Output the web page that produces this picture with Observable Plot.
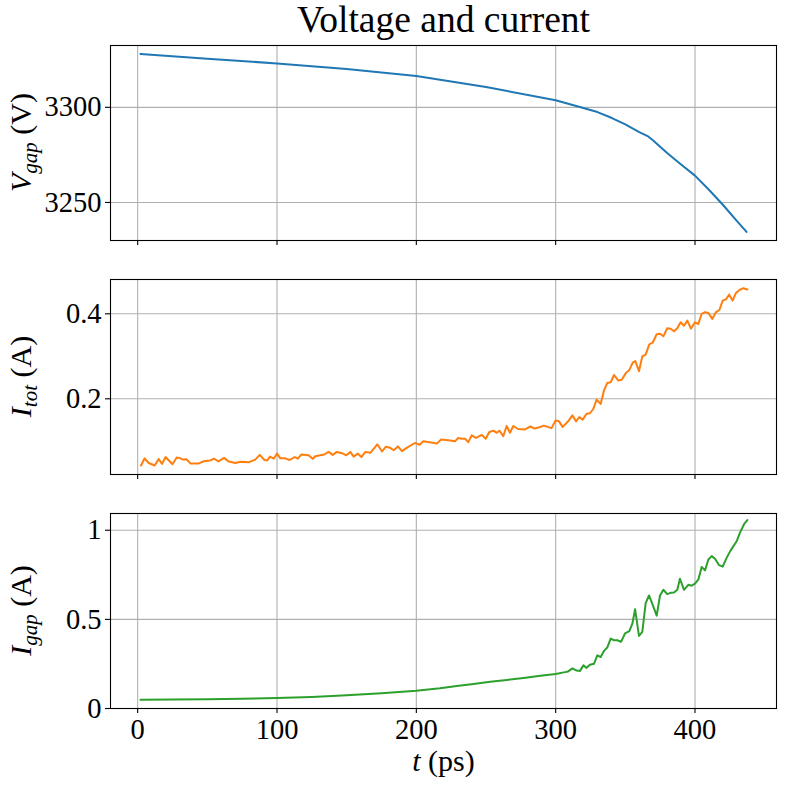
<!DOCTYPE html>
<html>
<head>
<meta charset="utf-8">
<script src="https://cdn.jsdelivr.net/npm/d3@7"></script>
<script src="https://cdn.jsdelivr.net/npm/@observablehq/plot@0.6"></script>
<style>
  html, body { margin: 0; padding: 0; background: #fff; }
  #chart svg { display: block; }
</style>
</head>
<body>
<div id="chart"></div>
<script>
// ---- data ----
const tV = [2, 50, 100, 150, 200, 250, 300, 318, 330, 340, 350, 360, 366, 370, 380, 390, 400, 410, 420, 430, 437];
const vGap = [3328.0, 3325.5, 3323.1, 3320.2, 3316.5, 3310.7, 3303.7, 3300.0, 3297.5, 3294.5, 3291.0, 3287.0, 3284.9, 3282.6, 3276.0, 3270.0, 3264.1, 3256.7, 3248.8, 3240.3, 3234.5];

const tTot = [2.4, 5, 7.9, 12.2, 15.1, 17.5, 20, 25, 28, 30, 32.5, 35, 37.8, 44, 47.4, 52, 55, 58, 62, 65, 70, 74, 80, 84.4, 87.6, 91, 93, 95, 97.6, 100, 102.4, 106, 109, 112.7, 115, 117.5, 122.7, 125.6, 127.5, 131, 134, 137, 140, 143, 146.6, 149.8, 152.6, 155, 158, 160.5, 163.4, 167, 172, 175.4, 178, 181, 183.7, 186.8, 189.7, 193.3, 199, 202.4, 205, 214.8, 217.7, 224.4, 227.8, 230, 232.5, 235, 237.3, 239.7, 242.8, 247, 249.8, 252.4, 255.3, 257.7, 259.6, 262.4, 264.8, 267.2, 269.6, 273, 278, 282, 284.7, 288.3, 291.6, 297, 300, 302.4, 305, 309, 312, 314.6, 317, 319.4, 322.2, 324.6, 327, 329.4, 332.3, 334.7, 337, 339.5, 341.9, 345, 347.4, 350.5, 352.9, 355.3, 357.2, 359.8, 362.2, 364.6, 367.2, 369.6, 372.5, 374.9, 377.3, 380.1, 382.5, 384.9, 387.3, 389.7, 392.1, 394.5, 397.1, 400, 402.4, 404.8, 407.2, 409.6, 412.4, 415.1, 417.5, 419.9, 422.2, 424.6, 427, 429.4, 432.3, 434.7, 437.6];
const iTot = [0.043, 0.060, 0.049, 0.043, 0.058, 0.047, 0.063, 0.046, 0.062, 0.061, 0.057, 0.058, 0.048, 0.048, 0.053, 0.055, 0.059, 0.053, 0.061, 0.053, 0.049, 0.052, 0.051, 0.057, 0.068, 0.056, 0.055, 0.064, 0.059, 0.071, 0.060, 0.060, 0.056, 0.063, 0.059, 0.069, 0.067, 0.059, 0.065, 0.067, 0.069, 0.075, 0.068, 0.075, 0.072, 0.067, 0.075, 0.064, 0.071, 0.063, 0.075, 0.073, 0.093, 0.076, 0.087, 0.085, 0.079, 0.088, 0.077, 0.085, 0.096, 0.092, 0.100, 0.095, 0.104, 0.102, 0.100, 0.108, 0.106, 0.106, 0.098, 0.114, 0.108, 0.115, 0.106, 0.122, 0.125, 0.120, 0.125, 0.112, 0.136, 0.120, 0.136, 0.129, 0.128, 0.135, 0.130, 0.133, 0.137, 0.131, 0.149, 0.147, 0.134, 0.147, 0.161, 0.147, 0.157, 0.151, 0.165, 0.166, 0.176, 0.198, 0.188, 0.220, 0.237, 0.239, 0.256, 0.243, 0.245, 0.261, 0.268, 0.285, 0.289, 0.265, 0.300, 0.304, 0.328, 0.332, 0.352, 0.353, 0.347, 0.366, 0.365, 0.359, 0.366, 0.380, 0.372, 0.384, 0.365, 0.380, 0.376, 0.400, 0.404, 0.402, 0.388, 0.404, 0.409, 0.431, 0.434, 0.445, 0.431, 0.449, 0.457, 0.460, 0.457];

const tGap = [2, 25, 50, 75, 100, 125, 150, 175, 200, 217, 229, 241, 253, 265, 277, 289, 300, 306.7, 309, 312, 315, 317.5, 319.9, 322.2, 324.6, 327.5, 329.9, 332.3, 334.7, 337, 339.5, 341.9, 344.3, 346.9, 349.8, 352.9, 355.1, 357, 359.8, 362.2, 364.6, 367, 369.4, 372.5, 374.9, 377.3, 380.1, 382.5, 384.9, 387.3, 389.2, 392.1, 395.2, 397.6, 400, 402.4, 404.8, 407.2, 409.6, 412, 414.4, 417.3, 419.9, 422.7, 425.6, 430, 432.3, 435.2, 437.6];
const iGap = [0.049, 0.050, 0.052, 0.055, 0.059, 0.065, 0.074, 0.086, 0.100, 0.113, 0.126, 0.137, 0.150, 0.160, 0.171, 0.184, 0.194, 0.204, 0.208, 0.225, 0.213, 0.211, 0.242, 0.228, 0.245, 0.251, 0.298, 0.289, 0.323, 0.342, 0.392, 0.383, 0.383, 0.374, 0.421, 0.434, 0.477, 0.557, 0.408, 0.430, 0.591, 0.634, 0.587, 0.521, 0.634, 0.666, 0.642, 0.649, 0.651, 0.666, 0.728, 0.666, 0.694, 0.689, 0.700, 0.723, 0.794, 0.775, 0.836, 0.855, 0.840, 0.804, 0.796, 0.845, 0.887, 0.940, 0.987, 1.034, 1.057];

const xTicks = [0, 100, 200, 300, 400];
const yTicks1 = [3250, 3300];
const yTicks2 = [0.2, 0.4];
const yTicks3 = [0, 0.5, 1];

const colors = ["#1f77b4", "#ff7f0e", "#2ca02c"];
const FONT = "'Liberation Serif', 'DejaVu Serif', serif";

const dV = tV.map((t, i) => ({t, v: vGap[i]}));
const dTot = tTot.map((t, i) => ({t, v: iTot[i]}));
const dGap = tGap.map((t, i) => ({t, v: iGap[i]}));

function panel({data, color, yDomain, yTicks, yFmt, height, marginTop, marginBottom, xLabels}) {
  return Plot.plot({
    width: 786,
    height,
    marginLeft: 110,
    marginRight: 10,
    marginTop,
    marginBottom,
    style: {fontFamily: FONT, fontSize: "28.5px", background: "white", overflow: "visible"},
    x: {domain: [-19.5, 458.5]},
    y: {domain: yDomain},
    marks: [
      Plot.gridX(xTicks, {stroke: "#b0b0b0", strokeOpacity: 1, strokeWidth: 1.1}),
      Plot.gridY(yTicks, {stroke: "#b0b0b0", strokeOpacity: 1, strokeWidth: 1.1}),
      Plot.line(data, {x: "t", y: "v", stroke: color, strokeWidth: 2}),
      Plot.frame({stroke: "black", strokeWidth: 1.1}),
      Plot.axisY(yTicks, {tickSize: 5, tickPadding: 4, tickFormat: yFmt, label: null, stroke: "black", strokeWidth: 1.1, fill: "black"}),
      Plot.axisX(xTicks, {tickSize: 5, tickPadding: 5, tickFormat: xLabels ? (d => String(d)) : () => "", label: null, stroke: "black", strokeWidth: 1.1, fill: "black"})
    ]
  });
}

function yLabel(svg, cy, main, sub, unit) {
  const t = d3.select(svg).append("text")
    .attr("transform", `translate(31,${cy}) rotate(-90)`)
    .attr("text-anchor", "middle")
    .attr("font-family", FONT)
    .attr("font-size", 30)
    .attr("fill", "black");
  t.append("tspan").attr("font-style", "italic").text(main);
  t.append("tspan").attr("font-style", "italic").attr("font-size", 21).attr("dy", 6).text(sub);
  t.append("tspan").attr("dy", -6).text(" (" + unit + ")");
}

const chart = document.getElementById("chart");

const s1 = panel({data: dV, color: colors[0], yDomain: [3230, 3332.5], yTicks: yTicks1, yFmt: d => String(d), height: 259, marginTop: 45, marginBottom: 19, xLabels: false});
d3.select(s1).append("text")
  .attr("x", 443.5).attr("y", 32)
  .attr("text-anchor", "middle")
  .attr("font-family", FONT).attr("font-size", 37.5).attr("fill", "black")
  .text("Voltage and current");
yLabel(s1, 142.5, "V", "gap", "V");
chart.appendChild(s1);

const s2 = panel({data: dTot, color: colors[1], yDomain: [0.0219, 0.4807], yTicks: yTicks2, yFmt: d => d.toFixed(1), height: 234, marginTop: 20, marginBottom: 19, xLabels: false});
yLabel(s2, 20 + 97.5, "I", "tot", "A");
chart.appendChild(s2);

const s3 = panel({data: dGap, color: colors[2], yDomain: [0, 1.094], yTicks: yTicks3, yFmt: d => String(d), height: 295, marginTop: 20, marginBottom: 80, xLabels: true});
yLabel(s3, 20 + 97.5, "I", "gap", "A");
const xl = d3.select(s3).append("text")
  .attr("x", 443.5).attr("y", 278)
  .attr("text-anchor", "middle")
  .attr("font-family", FONT).attr("font-size", 30).attr("fill", "black");
xl.append("tspan").attr("font-style", "italic").text("t");
xl.append("tspan").text(" (ps)");
chart.appendChild(s3);
</script>
</body>
</html>
